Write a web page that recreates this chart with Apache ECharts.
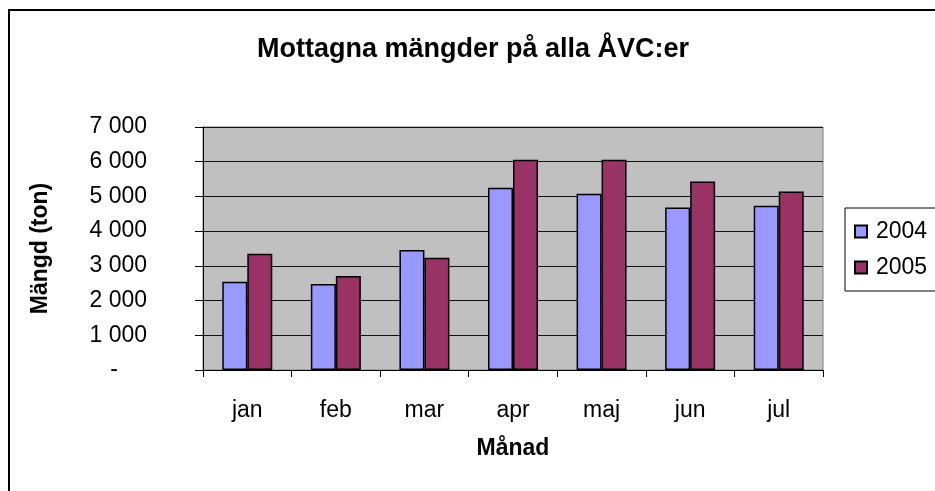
<!DOCTYPE html>
<html>
<head>
<meta charset="utf-8">
<script src="https://cdn.jsdelivr.net/npm/echarts@6/dist/echarts.min.js"></script>
<style>
  html, body { margin: 0; padding: 0; background: #fff; }
  #chart { width: 935px; height: 491px; }
</style>
</head>
<body>
<div id="chart"></div>
<script>
// månader och mottagna mängder (ton)
const months = ['jan', 'feb', 'mar', 'apr', 'maj', 'jun', 'jul'];
const years = ['2004', '2005'];
const data2004 = [2540, 2480, 3460, 5250, 5080, 4680, 4730];
const data2005 = [3350, 2710, 3230, 6060, 6060, 5430, 5140];

const chart = echarts.init(document.getElementById('chart'));

const option = {
  animation: false,
  textStyle: { fontFamily: 'Liberation Sans, Arial, sans-serif' },
  // ram runt hela diagrammet
  graphic: [{
    type: 'rect',
    shape: { x: 9, y: 10, width: 1000, height: 1000 },
    style: { fill: 'none', stroke: '#000', lineWidth: 2 },
    silent: true
  }],
  title: {
    text: 'Mottagna mängder på alla ÅVC:er',
    left: 468,
    textAlign: 'center',
    top: 31,
    textStyle: { fontSize: 27, fontWeight: 'bold', color: '#000' }
  },
  legend: {
    data: years,
    orient: 'vertical',
    left: 845,
    top: 208,
    padding: [12, 45, 12, 9],
    itemGap: 13,
    itemWidth: 12,
    itemHeight: 12,
    icon: 'rect',
    borderColor: '#000',
    borderWidth: 1,
    textStyle: { fontSize: 23, color: '#000', padding: [0, 0, 0, 4] }
  },
  grid: {
    left: 203,
    right: 112,
    top: 127,
    bottom: 121,
    show: true,
    backgroundColor: '#C0C0C0',
    borderColor: '#808080',
    borderWidth: 1
  },
  xAxis: {
    type: 'category',
    data: months,
    name: 'Månad',
    nameLocation: 'middle',
    nameGap: 67,
    nameTextStyle: { fontSize: 23, fontWeight: 'bold', color: '#000' },
    axisLine: { lineStyle: { color: '#000', width: 1 } },
    axisTick: { show: true, length: 7, lineStyle: { color: '#000' } },
    axisLabel: { fontSize: 23, color: '#000', margin: 29 }
  },
  yAxis: {
    type: 'value',
    min: 0,
    max: 7000,
    interval: 1000,
    name: 'Mängd (ton)',
    nameLocation: 'middle',
    nameGap: 151,
    nameTextStyle: { fontSize: 23, fontWeight: 'bold', color: '#000' },
    axisLine: { show: true, lineStyle: { color: '#000', width: 1 } },
    axisTick: { show: true, length: 8, lineStyle: { color: '#000' } },
    splitLine: { lineStyle: { color: '#111', width: 1 } },
    axisLabel: {
      fontSize: 23,
      color: '#000',
      margin: 56,
      formatter: function (v) {
        if (v === 0) return '{z|-}';
        return String(v).replace(/\B(?=(\d{3})+(?!\d))/g, ' ');
      },
      rich: { z: { fontSize: 23, color: '#000', padding: [0, 29, 0, 0] } }
    }
  },
  series: [
    {
      name: years[0],
      type: 'bar',
      data: data2004,
      barWidth: 25,
      barGap: '0%',
      itemStyle: { color: '#9999FF', borderColor: '#000', borderWidth: 1.5 }
    },
    {
      name: years[1],
      type: 'bar',
      data: data2005,
      barWidth: 25,
      barGap: '0%',
      itemStyle: { color: '#993366', borderColor: '#000', borderWidth: 1.5 }
    }
  ]
};

chart.setOption(option);
</script>
</body>
</html>
